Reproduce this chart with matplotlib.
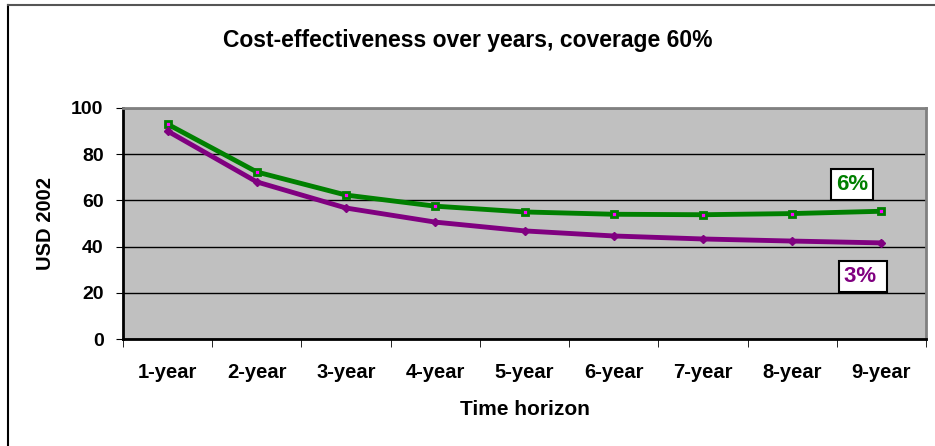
import matplotlib.pyplot as plt
import numpy as np

# data
years = ['1-year', '2-year', '3-year', '4-year', '5-year', '6-year', '7-year', '8-year', '9-year']
rate_6 = [93.0, 72.3, 62.3, 57.5, 55.0, 54.0, 53.8, 54.3, 55.3]
rate_3 = [90.0, 68.0, 56.7, 50.6, 46.8, 44.6, 43.3, 42.4, 41.6]

plt.rcParams['font.family'] = ['Liberation Sans', 'DejaVu Sans']
plt.rcParams['font.weight'] = 'bold'

fig = plt.figure(figsize=(9.35, 4.46), dpi=100)
ax = fig.add_axes([123 / 935, 107 / 446, (926 - 123) / 935, (339 - 108) / 446])

# outer chart frame (only top and left edges visible)
fig.add_artist(plt.Line2D([8 / 935, 8 / 935], [0, 1 - 5 / 446], color='black', lw=1.5))
fig.add_artist(plt.Line2D([8 / 935, 1], [1 - 5 / 446, 1 - 5 / 446], color='#555555', lw=1.5))

x = np.arange(len(years))
ax.set_facecolor('#c0c0c0')
ax.set_xlim(-0.5, len(years) - 0.5)
ax.set_ylim(0, 100)
ax.set_yticks([0, 20, 40, 60, 80, 100])
ax.grid(axis='y', color='black', lw=1)
ax.set_axisbelow(True)

ax.plot(x, rate_6, color='#008000', lw=3.5, marker='s', ms=5,
        mfc='#ff00ff', mec='#008000', mew=2, zorder=3)
ax.plot(x, rate_3, color='#800080', lw=3.5, marker='D', ms=4,
        mfc='#800080', mec='#800080', zorder=3)

box = dict(boxstyle='square,pad=0.22', fc='white', ec='black', lw=1.5)
ax.text(7.67, 67, '6%', color='#008000', fontsize=16, fontweight='bold',
        ha='center', va='center', bbox=box)
ax.text(7.58, 27, '3% ', color='#800080', fontsize=16, fontweight='bold',
        ha='left', va='center', bbox=box)

# category labels centred, ticks at boundaries
ax.set_xticks(x)
ax.set_xticklabels(years, fontsize=14.5, fontweight='bold')
ax.tick_params(axis='x', length=0, pad=17)
ax.set_xticks(np.arange(-0.5, len(years)), minor=True)
ax.tick_params(axis='x', which='minor', length=6, direction='out')
ax.tick_params(axis='y', length=5, direction='out', labelsize=14, pad=9)
for lab in ax.get_yticklabels():
    lab.set_fontweight('bold')

ax.spines['left'].set_color('black')
ax.spines['bottom'].set_color('black')
ax.spines['top'].set_color('#808080')
ax.spines['right'].set_color('#808080')
for s in ax.spines.values():
    s.set_linewidth(2)

ax.set_xlabel('Time horizon', fontsize=15, fontweight='bold', labelpad=13)
ax.set_ylabel('USD 2002', fontsize=14.5, fontweight='bold', labelpad=12)
fig.text(0.5, 1 - 40 / 446, 'Cost-effectiveness over years, coverage 60%',
         ha='center', va='center', fontsize=16.5, fontweight='bold')

fig.savefig('out.png', dpi=100)
